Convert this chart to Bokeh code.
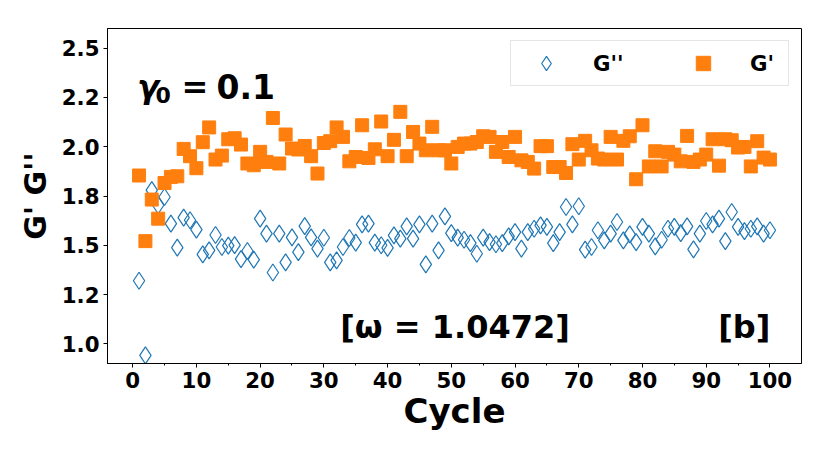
from bokeh.plotting import figure
from bokeh.models import (ColumnDataSource, Range1d, SingleIntervalTicker, FixedTicker,
                          Label, Legend, LegendItem)
from bokeh.embed import file_html
from bokeh.resources import INLINE

cycles = list(range(1, 101))

g_loss = [  # G'' (open diamonds)
    1.320, 0.941, 1.780, 1.703, 1.745, 1.610, 1.488, 1.640, 1.627, 1.579,
    1.454, 1.474, 1.552, 1.491, 1.498, 1.501, 1.430, 1.471, 1.427, 1.635,
    1.559, 1.362, 1.559, 1.413, 1.540, 1.465, 1.597, 1.540, 1.483, 1.538,
    1.413, 1.423, 1.491, 1.537, 1.513, 1.606, 1.610, 1.513, 1.500, 1.487,
    1.550, 1.534, 1.596, 1.534, 1.606, 1.403, 1.610, 1.474, 1.647, 1.562,
    1.539, 1.528, 1.511, 1.457, 1.539, 1.516, 1.505, 1.511, 1.545, 1.567,
    1.483, 1.567, 1.584, 1.601, 1.593, 1.511, 1.567, 1.694, 1.606, 1.698,
    1.478, 1.491, 1.576, 1.525, 1.559, 1.618, 1.525, 1.555, 1.516, 1.593,
    1.559, 1.494, 1.528, 1.584, 1.593, 1.562, 1.596, 1.479, 1.559, 1.623,
    1.606, 1.635, 1.521, 1.669, 1.593, 1.572, 1.584, 1.596, 1.559, 1.576,
]

g_store = [  # G' (filled squares)
    1.854, 1.521, 1.732, 1.635, 1.816, 1.847, 1.850, 1.989, 1.952, 1.891,
    2.023, 2.098, 1.935, 1.955, 2.038, 2.043, 2.011, 1.915, 1.906, 1.974,
    1.923, 2.146, 1.915, 2.062, 1.991, 1.986, 2.004, 1.952, 1.864, 2.019,
    2.028, 2.098, 2.050, 1.926, 1.948, 2.109, 1.943, 1.987, 2.128, 1.952,
    2.035, 2.177, 1.952, 2.075, 2.016, 1.982, 2.101, 1.982, 1.982, 1.915,
    1.999, 2.016, 2.016, 2.024, 2.053, 2.050, 1.974, 2.024, 1.948, 2.050,
    1.931, 1.923, 1.889, 2.003, 2.003, 1.897, 1.897, 1.867, 2.013, 1.935,
    2.030, 1.982, 1.940, 1.935, 2.050, 1.935, 2.030, 2.053, 1.835, 2.109,
    1.900, 1.977, 1.900, 1.974, 1.960, 1.926, 2.055, 1.923, 1.935, 1.960,
    2.038, 1.904, 2.038, 2.033, 1.996, 1.999, 1.900, 2.028, 1.945, 1.935,
]

y_ticks = [1.0, 1.25, 1.5, 1.75, 2.0, 2.25, 2.5]
y_tick_labels = ["1.0", "1.2", "1.5", "1.8", "2.0", "2.2", "2.5"]
legend_labels = ["G''", "G'"]

FONT = "DejaVu Sans"

src = ColumnDataSource(dict(cycle=cycles, gpp=g_loss, gp=g_store))

p = figure(width=822, height=445, output_backend="svg", toolbar_location=None,
           x_range=Range1d(-3.95, 104.95), y_range=Range1d(0.90, 2.60),
           min_border_left=107, min_border_right=21, min_border_top=28,
           min_border_bottom=82)
p.background_fill_color = "white"
p.border_fill_color = "white"
p.grid.visible = False
p.outline_line_color = "black"
p.outline_line_width = 1
p.outline_line_alpha = 1

r1 = p.scatter(x="cycle", y="gpp", source=src, marker="diamond", size=17,
               fill_color=None, line_color="#1f77b4", line_width=1.2)
r2 = p.scatter(x="cycle", y="gp", source=src, marker="square", size=13,
               fill_color="#ff7f0e", line_color="#ff7f0e", line_width=1)

p.xaxis.ticker = SingleIntervalTicker(interval=10, num_minor_ticks=2)
p.yaxis.ticker = FixedTicker(ticks=y_ticks, minor_ticks=[])
p.yaxis.major_label_overrides = {t: l for t, l in zip(y_ticks, y_tick_labels)}

p.xaxis.axis_label = "Cycle"
p.yaxis.axis_label = "G' G''"
for ax in (p.xaxis[0], p.yaxis[0]):
    ax.major_label_text_font = FONT
    ax.major_label_text_font_style = "bold"
    ax.major_label_text_font_size = "21.3px"
    ax.major_label_text_color = "black"
    ax.axis_label_text_font = FONT
    ax.axis_label_text_font_style = "bold"
    ax.axis_label_text_font_size = "30px"
    ax.axis_label_text_color = "black"
    ax.major_tick_out = 4
    ax.major_tick_in = 0
    ax.minor_tick_out = 2
    ax.minor_tick_in = 0
    ax.axis_line_color = "black"
    ax.major_tick_line_color = "black"
    ax.minor_tick_line_color = "black"
    ax.major_label_standoff = 4
p.xaxis.axis_label_text_font_size = "34px"
p.xaxis.axis_label_standoff = 0
p.yaxis.axis_label_standoff = 6

legend = Legend(items=[LegendItem(label=legend_labels[0], renderers=[r1]),
                       LegendItem(label=legend_labels[1], renderers=[r2])],
                orientation="horizontal", location="top_right", margin=12,
                padding=4, spacing=45, glyph_width=62, glyph_height=36,
                label_standoff=16, label_width=34,
                label_text_font=FONT, label_text_font_style="bold",
                label_text_font_size="21.3px", label_text_color="black",
                border_line_color="#cccccc", border_line_width=1,
                background_fill_color="white", background_fill_alpha=0.8)
p.add_layout(legend)

def add_text(txt, sx, sy, size, style="bold"):
    p.add_layout(Label(x=sx, y=sy, x_units="screen", y_units="screen", text=txt,
                       text_font=FONT, text_font_style=style, text_font_size=size,
                       text_color="black", text_baseline="alphabetic",
                       text_align="left"))

add_text("\u03b3", 29.7, 276.7, "32px", "bold italic")
add_text("0", 48.0, 268.7, "22px")
add_text("=", 74.0, 276.7, "32px")
add_text("0.1", 109.0, 276.7, "33px")
add_text("[\u03c9 = 1.0472]", 232.7, 36.7, "32px")
add_text("[b]", 610.7, 36.7, "32px")

open("out.html", "w").write(file_html(p, INLINE))
